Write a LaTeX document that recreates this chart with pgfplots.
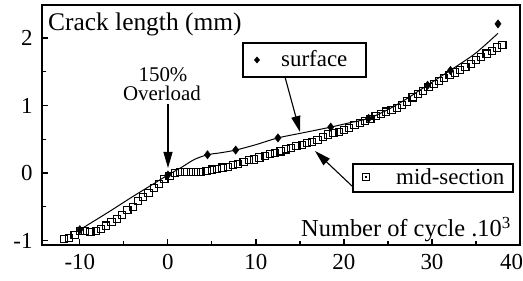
\documentclass[border=0pt]{standalone}
\usepackage{pgfplots}
\pgfplotsset{compat=1.18}
\usepackage{fontspec}
\setmainfont{Liberation Serif}
\usetikzlibrary{arrows.meta}
\newcommand{\bigf}{\fontsize{23}{26}\selectfont}
\begin{document}
\begin{tikzpicture}
\path[use as bounding box] (-42bp,-36bp) rectangle (481bp,245bp);
\begin{axis}[at={(0,0)}, anchor=south west, scale only axis,
  width=478bp, height=240bp,
  xmin=-14.3, xmax=40, ymin=-1.067, ymax=2.49,
  xtick={-10,0,10,20,30,40}, ytick={-1,0,1,2},
  xticklabels={-10,0,10,20,30,{\makebox[0pt][r]{40\hspace{-3bp}}}},
  minor xtick={-5,5,15,25,35}, minor ytick={-0.5,0.5,1.5},
  tick align=inside, xtick pos=bottom, ytick pos=left,
  major tick length=6bp, minor tick length=4bp,
  axis line style={line width=1.1bp},
  every tick/.style={line width=1.2bp, black},
  ticklabel style={font=\bigf},
  xticklabel style={yshift=-6bp},
  yticklabel style={xshift=-6bp},
  /pgf/number format/assume math mode=true,
  clip=false]
% surface curve
\addplot[black, line width=1bp, smooth, tension=0.5] coordinates {
(-10,-0.84) (-7,-0.6) (-4,-0.35) (-2,-0.19) (0,-0.03) (1.5,0.08) (3,0.2) (4.5,0.27) (6,0.3) (7.7,0.34) (10,0.42) (12.5,0.52) (15.5,0.6) (18.5,0.68) (20.5,0.74) (22.8,0.81) (25,0.94) (27,1.09) (29,1.26) (31,1.43) (33,1.6) (35,1.78) (37.5,2.07)};
% surface points
\addplot[only marks, mark=diamond*, mark size=4.2bp, black] coordinates {
(-10,-0.84) (0,-0.03) (4.5,0.27) (7.7,0.34) (12.5,0.52) (18.5,0.68) (22.8,0.81) (29.5,1.30) (32.1,1.52) (37.5,2.21)};
% mid-section
\addplot[only marks, mark=square, mark size=3.6bp, black, mark options={line width=1.1bp, fill=white}] coordinates {
(-11.8,-0.98) (-11.2,-0.96) (-10.6,-0.92) (-10.0,-0.86) (-9.4,-0.86) (-8.8,-0.87) (-8.2,-0.86) (-7.6,-0.83) (-7.0,-0.78) (-6.4,-0.73) (-5.8,-0.68) (-5.2,-0.62) (-4.6,-0.55) (-4.0,-0.50) (-3.4,-0.42) (-2.8,-0.36) (-2.2,-0.30) (-1.6,-0.22) (-1.0,-0.16) (-0.4,-0.09) (0.2,-0.04) (0.8,0.0) (1.4,0.02) (2.0,0.02) (2.6,0.01) (3.2,0.02) (3.8,0.02) (4.4,0.03) (5.0,0.05) (5.6,0.06) (6.2,0.08) (6.8,0.09) (7.4,0.12) (8.0,0.13) (8.6,0.16) (9.2,0.19) (9.8,0.20) (10.4,0.23) (11.0,0.25) (11.6,0.28) (12.2,0.30) (12.8,0.32) (13.4,0.35) (14.0,0.37) (14.6,0.40) (15.2,0.42) (15.8,0.44) (16.4,0.46) (17.0,0.49) (17.6,0.53) (18.2,0.57) (18.8,0.59) (19.4,0.61) (20.0,0.64) (20.6,0.67) (21.2,0.71) (21.8,0.74) (22.4,0.77) (23.0,0.80) (23.6,0.84) (24.2,0.87) (24.8,0.91) (25.4,0.93) (26.0,0.96) (26.6,1.01) (27.2,1.06) (27.8,1.12) (28.4,1.17) (29.0,1.22) (29.6,1.27) (30.2,1.32) (30.8,1.36) (31.4,1.41) (32.0,1.45) (32.6,1.49) (33.2,1.53) (33.8,1.57) (34.4,1.62) (35.0,1.67) (35.6,1.72) (36.2,1.77) (36.8,1.81) (37.4,1.86) (38.0,1.90)};
\end{axis}
\begin{scope}[x=1bp, y=-1bp, shift={(-42bp,245bp)}]
\node[anchor=base west, inner sep=0pt, font=\fontsize{25.5}{28}\selectfont] at (48,31) {Crack length (mm)};
\node[font=\fontsize{21}{19}\selectfont, inner sep=0pt, anchor=base] at (163,82) {150\%};
\node[font=\fontsize{21}{19}\selectfont, inner sep=0pt, anchor=base] at (162,101) {Overload};
\draw[line width=1.1bp, -{Triangle[length=16bp,width=9bp]}] (168,104) -- (168,168);
% surface legend box
\draw[line width=1.1bp, fill=white] (243,43) rectangle (366,77);
\node[font=\bigf, anchor=west, inner sep=0pt] at (281,59) {surface};
\node[inner sep=0pt] at (257,60) {\tikz\path[fill=black] (0,3.5bp) -- (3bp,0) -- (0,-3.5bp) -- (-3bp,0) -- cycle;};
\draw[line width=1.1bp, -{Triangle[length=16bp,width=9bp]}] (285,77) -- (300,132);
% mid-section legend box
\draw[line width=1.1bp, fill=white] (353,164) rectangle (513,192);
\node[font=\bigf, anchor=west, inner sep=0pt] at (396,177) {mid-section};
\node[inner sep=0pt] at (366,177) {\tikz{\draw[line width=1bp] (-3.5bp,-3.5bp) rectangle (3.5bp,3.5bp); \fill (-1.2bp,-1.2bp) rectangle (1.2bp,1.2bp);}};
\draw[line width=1.1bp, -{Triangle[length=16bp,width=9bp]}] (352,186) -- (315,151);
\node[font=\fontsize{24.5}{27}\selectfont, anchor=base east, inner sep=0pt] at (511,237) {Number of cycle .10$^{\mbox{\fontsize{17}{19}\selectfont 3}}$};
\end{scope}
\end{tikzpicture}
\end{document}
